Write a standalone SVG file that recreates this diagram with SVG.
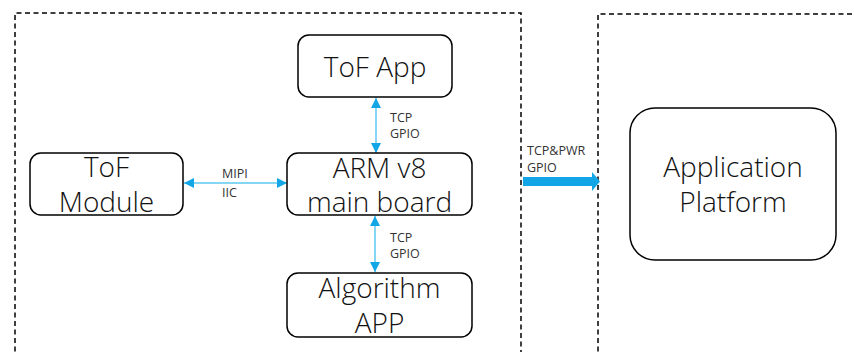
<svg xmlns="http://www.w3.org/2000/svg" width="854" height="352" viewBox="0 0 854 352">
<defs>
<style>
.frame{fill:none;stroke:#000;stroke-width:1.5;stroke-dasharray:5 3.5}
.node{fill:#fff;stroke:#000;stroke-width:1.5}
.big{font-family:"Open Sans","Noto Sans",sans-serif;font-weight:300;font-size:28px;fill:#111;text-anchor:middle}
.lbl{font-family:"Open Sans","Noto Sans",sans-serif;font-size:12.5px;fill:#333}
.link{stroke:#5bc8f0;stroke-width:1.5;fill:none}
</style>
<marker id="ah" viewBox="0 0 10 10" refX="10" refY="5" markerWidth="10" markerHeight="10" markerUnits="userSpaceOnUse" orient="auto-start-reverse">
<path d="M0,0 L10,5 L0,10 z" fill="#12a6e6"/>
</marker>
</defs>
<rect width="854" height="352" fill="#fff"/>
<path class="frame" d="M15,360 V13 H521 V360"/>
<path class="frame" d="M598,360 V14 H860"/>
<g id="connectors">
<line class="link" x1="376" y1="98" x2="376" y2="153" marker-start="url(#ah)" marker-end="url(#ah)"/>
<line class="link" x1="375" y1="216" x2="375" y2="272" marker-start="url(#ah)" marker-end="url(#ah)"/>
<line class="link" x1="184" y1="183" x2="287" y2="183" marker-start="url(#ah)" marker-end="url(#ah)"/>
<path d="M523,177 H592 V172 L600,181.5 L592,191 V186 H523 z" fill="#12a6e6"/>
<text class="lbl" x="390" y="122">TCP</text>
<text class="lbl" x="390" y="138">GPIO</text>
<text class="lbl" x="390" y="242">TCP</text>
<text class="lbl" x="390" y="258">GPIO</text>
<text class="lbl" x="222" y="178">MIPI</text>
<text class="lbl" x="222" y="197">IIC</text>
<text class="lbl" x="527" y="155">TCP&amp;PWR</text>
<text class="lbl" x="527" y="172">GPIO</text>
</g>
<g id="tof-app">
<rect class="node" x="298" y="35" width="154" height="62" rx="11"/>
<text class="big" x="375" y="77">ToF App</text>
</g>
<g id="arm">
<rect class="node" x="287" y="153" width="185" height="62" rx="11"/>
<text class="big" x="379.5" y="178">ARM v8</text>
<text class="big" x="379.5" y="212">main board</text>
</g>
<g id="tof-module">
<rect class="node" x="30" y="153" width="153" height="62" rx="11"/>
<text class="big" x="106.5" y="177">ToF</text>
<text class="big" x="106.5" y="212">Module</text>
</g>
<g id="algorithm">
<rect class="node" x="287" y="273" width="185" height="64" rx="11"/>
<text class="big" x="379.5" y="298">Algorithm</text>
<text class="big" x="379.5" y="333">APP</text>
</g>
<g id="app-platform">
<rect class="node" x="630" y="108" width="206" height="152" rx="25"/>
<text class="big" x="733" y="177">Application</text>
<text class="big" x="733" y="212">Platform</text>
</g>
</svg>
